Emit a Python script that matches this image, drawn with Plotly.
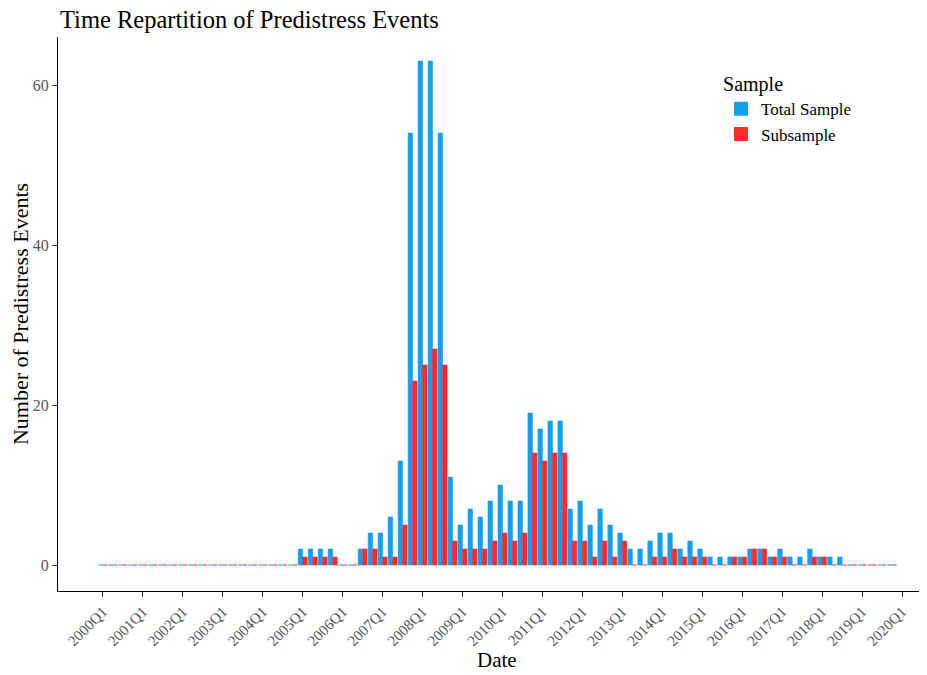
import plotly.graph_objects as go

years = list(range(2000, 2020))
quarters = [f"{y}Q{q}" for y in years for q in range(1, 5)]
all_categories = quarters + ["2020Q1"]
tick_labels = [f"{y}Q1" for y in range(2000, 2021)]

total_sample = [0]*20 + [2, 2, 2, 2, 0, 0, 2, 4, 4, 6, 13, 54, 63, 63, 54, 11,
                         5, 7, 6, 8, 10, 8, 8, 19, 17, 18, 18, 7, 8, 5, 7, 5,
                         4, 2, 2, 3, 4, 4, 2, 3, 2, 1, 1, 1, 1, 2, 2, 1,
                         2, 1, 1, 2, 1, 1, 1, 0, 0, 0, 0, 0]
subsample = [0]*20 + [1, 1, 1, 1, 0, 0, 2, 2, 1, 1, 5, 23, 25, 27, 25, 3,
                      2, 2, 2, 3, 4, 3, 4, 14, 13, 14, 14, 3, 3, 1, 3, 1,
                      3, 0, 0, 1, 1, 2, 1, 1, 1, 0, 0, 1, 1, 2, 2, 1,
                      1, 0, 0, 1, 1, 0, 0, 0, 0, 0, 0, 0]

BLUE = "#12A0EE"
RED = "#FF2A2A"
FONT = "Liberation Serif"
TICK_GRAY = "#555555"

# page body has an 8px margin, so the figure is sized to fit the 927x675 window
W, H = 919, 667

fig = go.Figure()
fig.add_trace(go.Bar(x=quarters, y=total_sample, name="Total Sample",
                     marker=dict(color=BLUE, line=dict(color=BLUE, width=0.6))))
fig.add_trace(go.Bar(x=quarters, y=subsample, name="Subsample",
                     marker=dict(color=RED, line=dict(color=RED, width=0.6))))

fig.update_layout(
    width=W, height=H,
    paper_bgcolor="white", plot_bgcolor="white",
    margin=dict(l=50, r=0, t=29, b=84, autoexpand=False),
    barmode="group", bargap=0.1, bargroupgap=0,
    font=dict(family=FONT, color="black"),
    title=dict(text="Time Repartition of Predistress Events",
               font=dict(family=FONT, size=24.5, color="black"),
               x=52/W, xanchor="left", xref="container",
               y=1, yanchor="top", yref="container", pad=dict(t=3)),
    legend=dict(title=dict(text="Sample", font=dict(size=20)),
                font=dict(size=17), x=0.763, xanchor="left",
                y=0.949, yanchor="top", bgcolor="rgba(0,0,0,0)",
                itemsizing="constant"),
    xaxis=dict(type="category", categoryorder="array", categoryarray=all_categories,
               range=[-4.5, 82.5], tickmode="array", tickvals=tick_labels,
               ticktext=tick_labels, tickangle=-45, automargin=False,
               tickfont=dict(size=15, color=TICK_GRAY),
               showline=True, linecolor="black", linewidth=1,
               ticks="outside", ticklen=5, tickcolor="#333333",
               showgrid=False, zeroline=False),
    yaxis=dict(range=[-3.25, 66], tickvals=[0, 20, 40, 60], automargin=False,
               tickfont=dict(size=16, color=TICK_GRAY),
               showline=True, linecolor="black", linewidth=1,
               ticks="outside", ticklen=5, tickcolor="#333333",
               showgrid=False, zeroline=False,
               title=dict(text="Number of Predistress Events", font=dict(size=22))),
    annotations=[dict(text="Date", xref="paper", yref="paper",
                      x=(497-58)/869, y=-69/554, xanchor="center", yanchor="middle",
                      showarrow=False, font=dict(size=21, color="black"))],
)

fig.write_html("out.html")
